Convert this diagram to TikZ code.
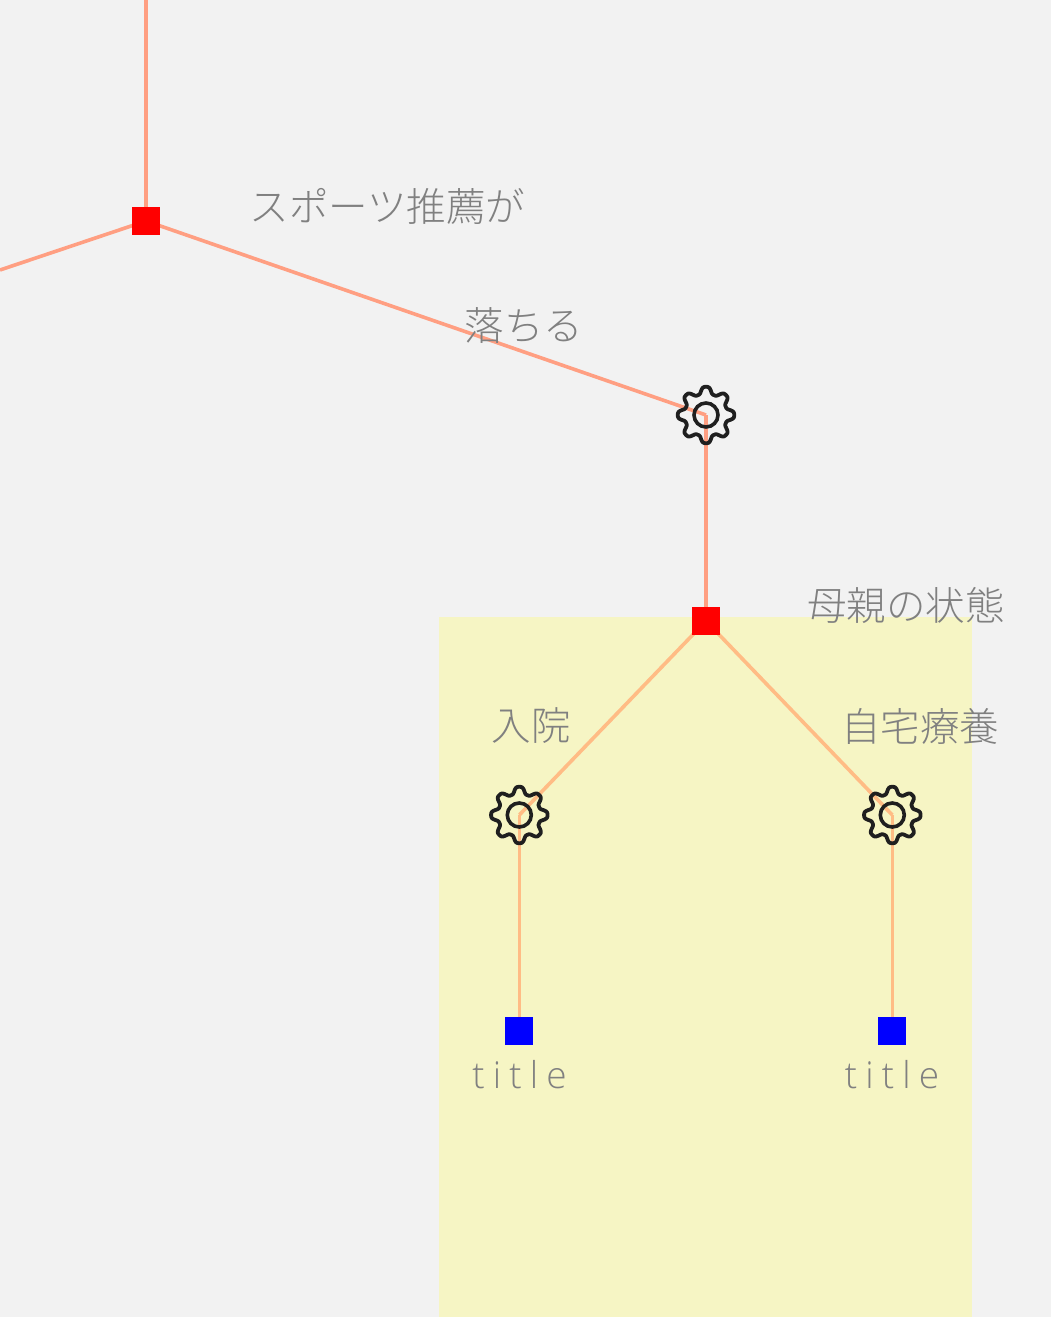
\documentclass[tikz,border=0pt]{standalone}
\usepackage{fontspec}
\setmainfont{Noto Sans CJK JP}[UprightFont=* Light]
\newfontfamily\latinthin{Open Sans Light}[LetterSpace=22]
\definecolor{bgc}{HTML}{F2F2F2}
\definecolor{zone}{HTML}{F6F5C4}
\definecolor{lineA}{HTML}{FF9F82}
\definecolor{lineB}{HTML}{FFBC85}
\definecolor{txt}{HTML}{808080}
\tikzset{
  x=1pt,y=-1pt,
  link/.style={line width=3.6pt},
  junction/.style={fill=red,draw=none,minimum size=28pt,inner sep=0pt,outer sep=0pt},
  leaf/.style={fill=blue,draw=none,minimum size=28pt,inner sep=0pt,outer sep=0pt},
  label/.style={text=txt,font=\fontsize{39.5pt}{39.5pt}\selectfont,inner sep=0pt},
  leaflabel/.style={text=txt,font=\fontsize{37pt}{37pt}\latinthin,inner sep=0pt},
  hub/.style={inner sep=0pt,outer sep=0pt,minimum size=1pt}
}
\newcommand{\gearat}[1]{%
  \draw[line width=3.8pt,black!88,line join=round]
    plot[domain=0:358,samples=180,smooth,shift={(#1)}]
      ({(24.8+3.4*(cos(8*\x)-cos(24*\x)/9)/0.89)*cos(\x+90)},{(24.8+3.4*(cos(8*\x)-cos(24*\x)/9)/0.89)*sin(\x+90)}) -- cycle;
  \draw[line width=3.6pt,black!88] (#1) circle[radius=12];
}
\begin{document}
\begin{tikzpicture}
\useasboundingbox (0,0) rectangle (1051,1317);
\fill[bgc] (0,0) rectangle (1051,1317);
\fill[zone] (439,617) rectangle (972,1317);
\coordinate (top) at (146,0);
\coordinate (left) at (0,270);
\node[hub] (g0) at (706,415) {};
\node[hub] (g1) at (519.3,815) {};
\node[hub] (g2) at (892.3,815) {};
\node[junction] (j0) at (146,221) {};
\node[junction] (j1) at (706,621) {};
\node[leaf] (l1) at (519.3,1031) {};
\node[leaf] (l2) at (892.3,1031) {};
\draw[link,lineA] (top) -- (j0.center);
\draw[link,lineA] (left) -- (j0.center);
\draw[link,lineA] (j0.center) -- (g0.center);
\draw[link,lineA] (g0.center) -- (j1.north);
\draw[link,lineB] (j1.center) -- (g1.center);
\draw[link,lineB] (j1.center) -- (g2.center);
\draw[link,lineB] (g1.center) -- (l1.north);
\draw[link,lineB] (g2.center) -- (l2.north);
\node[junction] at (j0.center) {};
\node[junction] at (j1.center) {};
\gearat{g0.center}
\gearat{g1.center}
\gearat{g2.center}
\node[label] (t0) at (387.5,206) {スポーツ推薦が};
\node[label] (t1) at (524,326) {落ちる};
\node[label] (t2) at (906,605) {母親の状態};
\node[label] (t3) at (531,726) {入院};
\node[label] (t4) at (920,726) {自宅療養};
\node[leaflabel] (t5) at (519.5,1075) {title};
\node[leaflabel] (t6) at (892,1075) {title};
\end{tikzpicture}
\end{document}
